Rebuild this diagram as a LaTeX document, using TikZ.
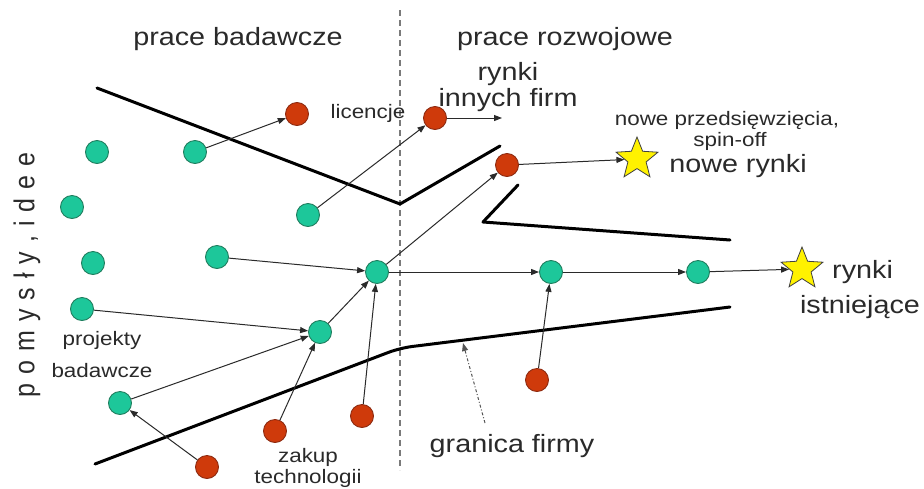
\documentclass[tikz,border=0pt]{standalone}
\usepackage{fontspec}
\setmainfont{Liberation Sans}
\usetikzlibrary{arrows.meta,shapes.geometric}
\definecolor{gfill}{HTML}{1DC79A}
\definecolor{gdraw}{HTML}{1F7E5E}
\definecolor{rfill}{HTML}{CF3A0B}
\definecolor{rdraw}{HTML}{8E2A10}
\definecolor{ink}{HTML}{2A2A2A}
\definecolor{dashgray}{HTML}{7A7A7A}
\newcommand\hst[1]{\scalebox{1.15}[1]{#1}}
\begin{document}
\begin{tikzpicture}[x=1pt,y=-1pt,
 gnode/.style={circle,fill=gfill,draw=gdraw,line width=0.9pt,minimum size=23pt,inner sep=0pt},
 rnode/.style={circle,fill=rfill,draw=rdraw,line width=0.9pt,minimum size=23pt,inner sep=0pt},
 starnode/.style={star,star points=5,star point ratio=2.3,fill=yellow,draw=black!75,line width=0.8pt,minimum size=44pt,inner sep=0pt},
 arr/.style={draw=ink,line width=1pt,-{Triangle[length=8pt,width=6pt]}},
 bound/.style={line width=3pt,line join=round,line cap=round},
 big/.style={font=\fontsize{25}{25}\selectfont,inner sep=0pt,anchor=base,text=ink},
 small/.style={font=\fontsize{19.5}{19.5}\selectfont,inner sep=0pt,anchor=base,text=ink}]
\fill[white] (0,0) rectangle (924,488);
\useasboundingbox (0,0) rectangle (924,488);

% divider
\draw[dashgray,line width=1.2pt,dash pattern=on 6pt off 4pt] (400,10) -- (400,470);

% firm boundary lines
\draw[bound] (97,88) -- (400,204) -- (500,146);
\draw[bound] (518,185) -- (483,222) -- (730,240);
\draw[bound,rounded corners=12pt] (95,464) -- (400,348) -- (730,307);

% texts
\node[big] (tpb) at (238,45) {\hst{prace badawcze}};
\node[big] (tpr) at (565,45) {\hst{prace rozwojowe}};
\node[big] (tr1) at (508,80) {\hst{rynki}};
\node[big] (tr2) at (508,106) {\hst{innych firm}};
\node[small] (tlic) at (368,118) {\hst{licencje}};
\node[small] (tnp) at (727,125) {\hst{nowe przedsięwzięcia,}};
\node[small] (tso) at (730,146) {\hst{spin-off}};
\node[big] (tnr) at (738,172) {\hst{nowe rynki}};
\node[big,anchor=base west] (tri) at (832,278) {\hst{rynki}};
\node[big] (tis) at (860,313) {\hst{istniejące}};
\node[big] (tgf) at (512,452) {\hst{granica firmy}};
\node[small] (tpj) at (102,345) {\hst{projekty}};
\node[small] (tbd) at (102,377) {\hst{badawcze}};
\node[small] (tzk) at (308,462) {\hst{zakup}};
\node[small] (ttc) at (308,483) {\hst{technologii}};
\node[rotate=90,inner sep=0pt,text=ink,font=\fontsize{25}{25}\selectfont] (tpi) at (27,275)
  {\scalebox{1}[1.15]{p\kern9pt o\kern9pt m\kern9pt y\kern9pt s\kern9pt ł\kern9pt y\kern9pt ,\kern9pt i\kern9pt d\kern9pt e\kern9pt e}};

% green nodes
\node[gnode] (g1) at (97,152) {};
\node[gnode] (g2) at (195,152) {};
\node[gnode] (g3) at (72,207) {};
\node[gnode] (g4) at (308,215) {};
\node[gnode] (g5) at (93,263) {};
\node[gnode] (g6) at (217,257) {};
\node[gnode] (g7) at (82,309) {};
\node[gnode] (g8) at (377,272) {};
\node[gnode] (g9) at (320,332) {};
\node[gnode] (g10) at (120,403) {};
\node[gnode] (g11) at (551,272) {};
\node[gnode] (g12) at (698,272) {};

% red nodes
\node[rnode] (r1) at (297,114) {};
\node[rnode] (r2) at (435,118) {};
\node[rnode] (r3) at (507,165) {};
\node[rnode] (r4) at (207,467) {};
\node[rnode] (r5) at (275,431) {};
\node[rnode] (r6) at (362,416) {};
\node[rnode] (r7) at (537,380) {};

% stars
\node[starnode] (s1) at (637,159) {};
\node[starnode] (s2) at (802,269) {};

\coordinate (e1) at (502,118);
\coordinate (gbA) at (485,423);
\coordinate (gbB) at (463,343);

% arrows
\draw[arr] (g2) -- (r1);
\draw[arr] (g4) -- (r2);
\draw[arr] (r2) -- (e1);
\draw[arr] (g8) -- (r3);
\draw[arr] (r3) -- (s1);
\draw[arr] (g6) -- (g8);
\draw[arr] (g7) -- (g9);
\draw[arr] (g10) -- (g9);
\draw[arr] (g9) -- (g8);
\draw[arr] (r5) -- (g9);
\draw[arr] (r6) -- (g8);
\draw[arr] (r4) -- (g10);
\draw[arr] (g8) -- (g11);
\draw[arr] (g11) -- (g12);
\draw[arr] (g12) -- (s2);
\draw[arr] (r7) -- (g11);
\draw[arr,draw=ink!80,dash pattern=on 3pt off 2pt on 1pt off 2pt] (gbA) -- (gbB);
\end{tikzpicture}
\end{document}
